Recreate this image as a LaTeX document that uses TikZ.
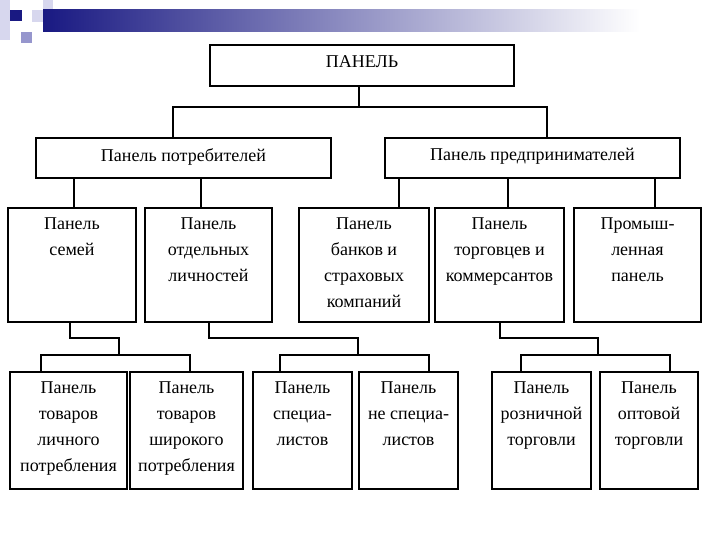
\documentclass[tikz,border=0pt]{standalone}
\usepackage{fontspec}
\setmainfont{Liberation Serif}
\definecolor{navyc}{RGB}{25,25,130}
\definecolor{lavm}{RGB}{150,150,205}
\definecolor{lavp}{RGB}{215,215,238}
\newcommand{\mybox}[6]{%
  \node[box, anchor=north west, minimum width={(#4-#2)*1pt}, minimum height={(#5-#3)*1pt}] (#1) at (#2,#3) {};
  \node[txt] (#1t) at ([yshift=-11pt]#1.north) {#6};}
\begin{document}
\begin{tikzpicture}[x=1pt,y=-1pt,
  box/.style={draw=black, line width=2pt, inner sep=0pt},
  txt/.style={anchor=north, align=center, inner sep=0pt, font=\fontsize{18}{26}\selectfont},
  con/.style={draw=black, line width=1.8pt},
  thinc/.style={draw=black, line width=1.2pt}]
\useasboundingbox (0,0) rectangle (720,540);
% header decoration
\fill[lavp] (0,0) rectangle (10,40);
\fill[lavp] (43,0) rectangle (53,22);
\fill[lavp] (32,10) rectangle (43,22);
\fill[lavm] (21,32) rectangle (32,43);
\fill[navyc] (10,10) rectangle (22,21);
\shade[left color=navyc, right color=white] (43,10) rectangle (640,32);
% boxes
\mybox{top}{209}{44}{513}{85}{ПАНЕЛЬ}
\mybox{cons}{35}{137}{330}{177}{Панель потребителей}
\mybox{ent}{384}{137}{679}{177}{Панель предпринимателей}
\mybox{b1}{7}{207}{135}{321}{Панель\\семей}
\mybox{b2}{144}{207}{271}{321}{Панель\\отдельных\\личностей}
\mybox{b3}{298}{207}{428}{321}{Панель\\банков и\\страховых\\компаний}
\mybox{b4}{434}{207}{563}{321}{Панель\\торговцев и\\коммерсантов}
\mybox{b5}{573}{207}{700}{321}{Промыш-\\ленная\\панель}
\mybox{c1}{9}{371}{126}{488}{Панель\\товаров\\личного\\потребления}
\mybox{c2}{129}{371}{242}{488}{Панель\\товаров\\широкого\\потребления}
\mybox{c3}{252}{371}{351}{488}{Панель\\специа-\\листов}
\mybox{c4}{358}{371}{457}{488}{Панель\\не специа-\\листов}
\mybox{c5}{491}{371}{590}{488}{Панель\\розничной\\торговли}
\mybox{c6}{599}{371}{697}{488}{Панель\\оптовой\\торговли}
% connectors top
\coordinate (j0) at (359,107);
\draw[con] (top.south -| j0) -- (j0);
\draw[con] (cons.north -| 173,0) |- (j0);
\draw[con] (ent.north -| 547,0) |- (j0);
\draw[con] (cons.south -| 74,0) -- (b1.north -| 74,0);
\draw[con] (cons.south -| 201,0) -- (b2.north -| 201,0);
\draw[con] (ent.south -| 399,0) -- (b3.north -| 399,0);
\draw[con] (ent.south -| 508,0) -- (b4.north -| 508,0);
\draw[con] (ent.south -| 655,0) -- (b5.north -| 655,0);
% lower groups
\coordinate (k1) at (119,355);
\draw[con] (b1.south -| 70,0) -- (70,338) -- (119,338) -- (k1);
\draw[thinc] (c1.north -| 41,0) -- (41,355) -- (190,355) -- (c2.north -| 190,0);
\coordinate (k2) at (358,355);
\draw[con] (b2.south -| 209,0) -- (209,338) -- (358,338) -- (k2);
\draw[thinc] (c3.north -| 280,0) -- (280,355) -- (429,355) -- (c4.north -| 429,0);
\coordinate (k3) at (598,355);
\draw[con] (b4.south -| 500,0) -- (500,338) -- (598,338) -- (k3);
\draw[thinc] (c5.north -| 521,0) -- (521,355) -- (670,355) -- (c6.north -| 670,0);
\end{tikzpicture}
\end{document}
